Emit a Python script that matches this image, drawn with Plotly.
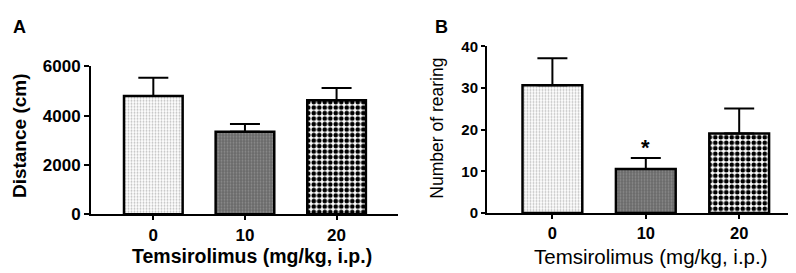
import plotly.graph_objects as go

doses = ["0", "10", "20"]
distance_mean = [4800, 3350, 4620]
distance_err = [740, 310, 500]
rearing_mean = [30.7, 10.6, 19.1]
rearing_err = [6.5, 2.6, 6.0]
star_y = 15.8

FONT = "Liberation Sans, Arial, sans-serif"

patterns = [
    dict(shape=".", fgcolor="#bcbcbc", bgcolor="#ffffff", size=3, solidity=0.3, fillmode="replace"),
    dict(shape=".", fgcolor="#8e8e8e", bgcolor="#6a6a6a", size=3, solidity=0.3, fillmode="replace"),
    dict(shape=".", fgcolor="#000000", bgcolor="#ffffff", size=5.5, solidity=0.55, fillmode="replace"),
]
base_colors = ["#ffffff", "#6a6a6a", "#ffffff"]

fig = go.Figure()

def add_bars(means, errs, xa, ya):
    for i, d in enumerate(doses):
        fig.add_trace(go.Bar(
            x=[d], y=[means[i]], xaxis=xa, yaxis=ya, width=0.64,
            marker=dict(color=base_colors[i], line=dict(color="black", width=2.5),
                        pattern=patterns[i]),
            error_y=dict(type="data", array=[errs[i]], arrayminus=[0], symmetric=False,
                         color="black", thickness=2, width=15),
            showlegend=False,
        ))

add_bars(distance_mean, distance_err, "x", "y")
add_bars(rearing_mean, rearing_err, "x2", "y2")

ax_common = dict(showline=True, linecolor="black", linewidth=2, ticks="outside",
                 tickcolor="black", tickwidth=2, showgrid=False, zeroline=False)

fig.update_layout(
    width=796, height=273, margin=dict(l=0, r=0, t=0, b=0),
    paper_bgcolor="white", plot_bgcolor="white", barmode="overlay",
    font=dict(family=FONT, color="black"),
    xaxis=dict(domain=[0.1043, 0.4899], anchor="y", type="category",
               categoryorder="array", categoryarray=doses,
               range=[-0.68, 2.67], ticklen=4,
               tickfont=dict(size=17, weight="bold"), **ax_common),
    yaxis=dict(domain=[0.2234, 0.8059], anchor="x", range=[0, 6000], dtick=2000,
               ticklen=5, tickfont=dict(size=17, weight="bold"), **ax_common),
    xaxis2=dict(domain=[0.6018, 0.9925], anchor="y2", type="category",
                categoryorder="array", categoryarray=doses,
                range=[-0.70, 2.63], ticklen=4,
                tickfont=dict(size=16.5, weight="bold"), **ax_common),
    yaxis2=dict(domain=[0.2282, 0.8839], anchor="x2", range=[0, 40], dtick=10,
                ticklen=4, tickfont=dict(size=15, weight="bold"), **ax_common),
)

ann = [
    dict(text="A", x=11 / 796, y=1 - 11 / 273, font=dict(size=18, weight="bold")),
    dict(text="B", x=433 / 796, y=1 - 11 / 273, font=dict(size=18, weight="bold")),
    dict(text="Distance (cm)", x=11 / 796, y=1 - 128 / 273, textangle=-90,
         font=dict(size=19, weight="bold")),
    dict(text="Temsirolimus (mg/kg, i.p.)", x=244 / 796, y=1 - 257 / 273,
         font=dict(size=19.5, weight="bold")),
    dict(text="Number of rearing", x=429 / 796, y=1 - 120 / 273, textangle=-90,
         font=dict(size=17.5)),
    dict(text="Temsirolimus (mg/kg, i.p.)", x=643 / 796, y=1 - 257 / 273,
         font=dict(size=20.5)),
]
for a in ann:
    fig.add_annotation(xref="paper", yref="paper", showarrow=False,
                       xanchor="center", yanchor="middle", **a)

fig.add_annotation(xref="x2", yref="y2", x=doses.index("10"), y=star_y, text="*",
                   showarrow=False, font=dict(size=22, weight="bold"), yanchor="middle")

fig.write_html("out.html")
